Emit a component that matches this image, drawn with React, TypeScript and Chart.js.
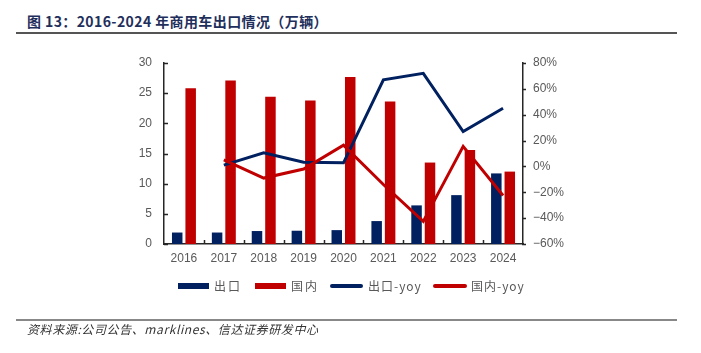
import React, { useEffect, useRef } from "react";
import { Chart, registerables } from "chart.js";

Chart.register(...registerables);

const categories = ["2016", "2017", "2018", "2019", "2020", "2021", "2022", "2023", "2024"];
const exportVol = [1.9, 1.9, 2.15, 2.2, 2.3, 3.8, 6.4, 8.1, 11.7];
const domesticVol = [25.8, 27.1, 24.4, 23.8, 27.7, 23.6, 13.5, 15.6, 12.0];
const exportYoy = [null, 1, 10.5, 3.3, 2.8, 67, 72, 27, 45];
const domesticYoy = [null, 5, -9, -2, 16.5, -14, -42.5, 15.5, -22.5];
const leftTicks = [0, 5, 10, 15, 20, 25, 30];
const rightTicks = [-60, -40, -20, 0, 20, 40, 60, 80];

const NAVY = "#002060";
const RED = "#C00000";
const AXIS = "#262626";
const TICK_TEXT = "#595959";

const innerTicks = {
  id: "innerTicks",
  afterDraw(chart: any) {
    const ctx = chart.ctx;
    const { left, right, bottom } = chart.chartArea;
    const y = chart.scales.y;
    const y1 = chart.scales.y1;
    ctx.save();
    ctx.strokeStyle = AXIS;
    ctx.lineWidth = 1.5;
    ctx.beginPath();
    leftTicks.forEach((v) => {
      const py = Math.round(y.getPixelForValue(v)) + 0.5;
      ctx.moveTo(left, py);
      ctx.lineTo(left + 4, py);
    });
    rightTicks.forEach((v) => {
      const py = Math.round(y1.getPixelForValue(v)) + 0.5;
      ctx.moveTo(right - 1, py);
      ctx.lineTo(right + 3, py);
    });
    const n = categories.length;
    const w = (right - left) / n;
    for (let i = 1; i < n; i++) {
      const px = Math.round(left + i * w) + 0.5;
      ctx.moveTo(px, bottom);
      ctx.lineTo(px, bottom - 4);
    }
    ctx.stroke();
    ctx.restore();
  },
};

export default function App() {
  const ref = useRef<HTMLCanvasElement | null>(null);

  useEffect(() => {
    if (!ref.current) return;
    const chart = new Chart(ref.current, {
      type: "bar",
      data: {
        labels: categories,
        datasets: [
          {
            type: "bar",
            label: "出口",
            data: exportVol,
            backgroundColor: NAVY,
            yAxisID: "y",
            categoryPercentage: 0.675,
            barPercentage: 0.78,
            order: 2,
          },
          {
            type: "bar",
            label: "国内",
            data: domesticVol,
            backgroundColor: RED,
            yAxisID: "y",
            categoryPercentage: 0.675,
            barPercentage: 0.78,
            order: 2,
          },
          {
            type: "line",
            label: "出口-yoy",
            data: exportYoy as any,
            borderColor: NAVY,
            borderWidth: 3,
            pointRadius: 0,
            tension: 0,
            yAxisID: "y1",
            order: 1,
          },
          {
            type: "line",
            label: "国内-yoy",
            data: domesticYoy as any,
            borderColor: RED,
            borderWidth: 3,
            pointRadius: 0,
            tension: 0,
            yAxisID: "y1",
            order: 0,
          },
        ],
      },
      options: {
        responsive: false,
        animation: false,
        events: [],
        layout: { padding: { left: 100, top: 63, right: 0, bottom: 0 } },
        plugins: {
          legend: { display: false },
          tooltip: { enabled: false },
          title: { display: false },
        },
        scales: {
          x: {
            grid: { display: false, drawTicks: false },
            border: { display: true, color: AXIS, width: 1.5 },
            ticks: {
              color: TICK_TEXT,
              font: { family: "Liberation Sans", size: 12 },
              padding: 7,
            },
            afterFit: (s: any) => {
              s.height = 109;
            },
          },
          y: {
            position: "left",
            min: 0,
            max: 30,
            afterBuildTicks: (s: any) => {
              s.ticks = leftTicks.map((v) => ({ value: v }));
            },
            grid: { display: false, drawTicks: false },
            border: { display: true, color: AXIS, width: 1.5 },
            ticks: {
              color: TICK_TEXT,
              font: { family: "Liberation Sans", size: 12 },
              padding: 12,
            },
            afterFit: (s: any) => {
              s.width = 64;
            },
          },
          y1: {
            position: "right",
            min: -60,
            max: 80,
            afterBuildTicks: (s: any) => {
              s.ticks = rightTicks.map((v) => ({ value: v }));
            },
            grid: { display: false, drawTicks: false },
            border: { display: true, color: AXIS, width: 1.5 },
            ticks: {
              color: TICK_TEXT,
              font: { family: "Liberation Sans", size: 12 },
              padding: 10,
              callback: (v: any) => (v < 0 ? "\u2212" + Math.abs(v) : String(v)) + "%",
            },
            afterFit: (s: any) => {
              s.width = 178;
            },
          },
        },
      },
      plugins: [innerTicks],
    });
    return () => chart.destroy();
  }, []);

  const legendText: React.CSSProperties = {
    fontFamily: "'Noto Sans CJK SC', sans-serif",
    fontSize: 12,
    color: TICK_TEXT,
    letterSpacing: 2,
    position: "absolute",
    top: 277,
    lineHeight: "18px",
    whiteSpace: "nowrap",
  };
  const swatch = (left: number, width: number, color: string, h: number, radius: number): React.CSSProperties => ({
    position: "absolute",
    left,
    top: 286 - h / 2,
    width,
    height: h,
    background: color,
    borderRadius: radius,
  });

  return (
    <div style={{ position: "absolute", left: 0, top: 0, width: 701, height: 353, background: "#fff", overflow: "hidden" }}>
      <div
        style={{
          position: "absolute",
          left: 27,
          top: 12,
          fontFamily: "'Noto Sans CJK SC', sans-serif",
          fontWeight: 700,
          fontSize: 14,
          letterSpacing: 0.4,
          color: "#1F2F5C",
          whiteSpace: "nowrap",
          lineHeight: "18px",
        }}
      >
        图 13：2016-2024 年商用车出口情况（万辆）
      </div>
      <div style={{ position: "absolute", left: 16, top: 32, width: 661, height: 2, background: "#555" }} />
      <canvas ref={ref} width={701} height={353} style={{ position: "absolute", left: 0, top: 0 }} />
      <div style={swatch(178, 31, NAVY, 6, 0)} />
      <div style={{ ...legendText, left: 214 }}>出口</div>
      <div style={swatch(255, 31, RED, 6, 0)} />
      <div style={{ ...legendText, left: 291 }}>国内</div>
      <div style={swatch(330, 33, NAVY, 4, 2)} />
      <div style={{ ...legendText, left: 368, letterSpacing: 1 }}>出口-yoy</div>
      <div style={swatch(433, 34, RED, 4, 2)} />
      <div style={{ ...legendText, left: 471, letterSpacing: 1 }}>国内-yoy</div>
      <div style={{ position: "absolute", left: 16, top: 319, width: 661, height: 2, background: "#888" }} />
      <div
        style={{
          position: "absolute",
          left: 27,
          top: 320,
          fontFamily: "'Noto Sans CJK SC', sans-serif",
          fontStyle: "italic",
          fontSize: 12,
          letterSpacing: 0.6,
          color: "#333",
          whiteSpace: "nowrap",
          lineHeight: "18px",
        }}
      >
        资料来源:公司公告、marklines、信达证券研发中心
      </div>
    </div>
  );
}
